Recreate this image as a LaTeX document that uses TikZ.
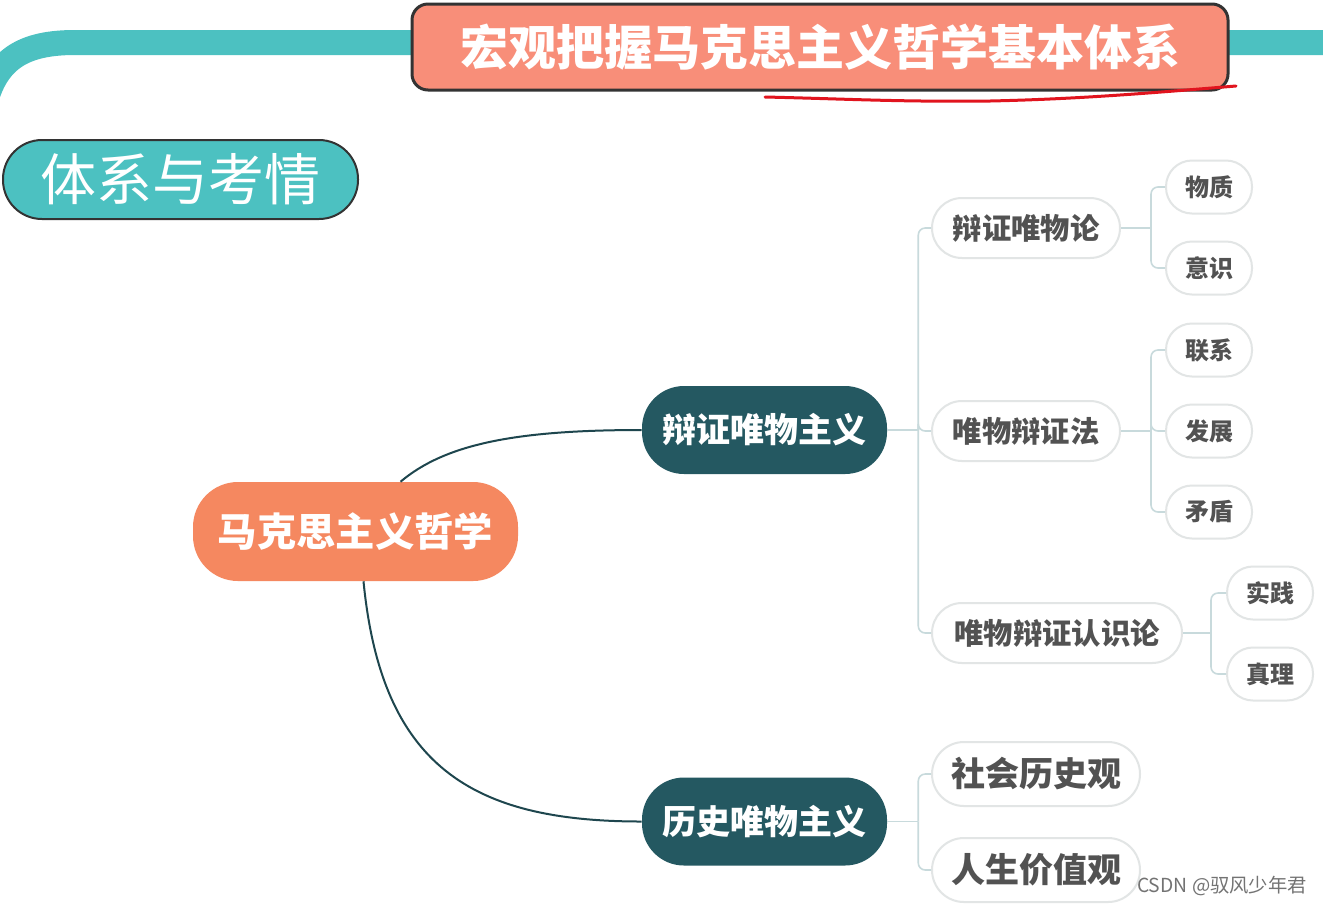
\documentclass[tikz,border=0pt]{standalone}
\usepackage{fontspec}
\setmainfont{Noto Sans CJK SC}
\usetikzlibrary{calc}
\definecolor{bandc}{RGB}{76,193,193}
\definecolor{titlefill}{RGB}{248,142,121}
\definecolor{rootfill}{RGB}{245,136,96}
\definecolor{dteal}{RGB}{36,88,97}
\definecolor{mline}{RGB}{30,70,78}
\definecolor{tlinec}{RGB}{200,218,220}
\definecolor{ltext}{RGB}{82,82,82}
\definecolor{lborder}{RGB}{226,229,229}
\definecolor{redpen}{RGB}{225,20,30}
\newcommand{\pu}[1]{#1*0.75pt}
\tikzset{
  titlebox/.style={draw=black!80, line width=\pu{3}, fill=titlefill, rounded corners=\pu{16},
    minimum width=\pu{816}, minimum height=\pu{86}, inner sep=0pt, text=white,
    font=\bfseries\fontsize{36}{40}\selectfont},
  tagbox/.style={draw=black!80, line width=\pu{2}, fill=bandc, rounded corners=\pu{39},
    minimum width=\pu{355}, minimum height=\pu{79}, inner sep=0pt, text=white,
    font=\fontsize{42}{48}\selectfont},
  rootbox/.style={fill=rootfill, rounded corners=\pu{45}, minimum width=\pu{325},
    minimum height=\pu{99}, inner sep=0pt, text=white, font=\bfseries\fontsize{29.5}{34}\selectfont},
  lvlone/.style={fill=dteal, rounded corners=\pu{42}, minimum width=\pu{245},
    minimum height=\pu{88}, inner sep=0pt, text=white, font=\bfseries\fontsize{25.5}{30}\selectfont},
  lvltwo/.style={fill=white, draw=lborder, line width=\pu{2}, rounded corners=\pu{30},
    minimum height=\pu{60}, inner sep=0pt, text=ltext, font=\bfseries\fontsize{22}{26}\selectfont},
  lvlbig/.style={lvltwo, rounded corners=\pu{32}, minimum height=\pu{64}, minimum width=\pu{208},
    font=\bfseries\fontsize{25.5}{30}\selectfont},
  lvlthree/.style={fill=white, draw=lborder, line width=\pu{2}, rounded corners=\pu{26},
    minimum height=\pu{53}, minimum width=\pu{86}, inner sep=0pt, text=ltext,
    font=\bfseries\fontsize{18}{22}\selectfont},
  mainc/.style={draw=mline, line width=\pu{2}},
  tl/.style={draw=tlinec, line width=\pu{1.6}, rounded corners=\pu{7}},
}
\begin{document}
\begin{tikzpicture}[x=0.75pt,y=-0.75pt]
\useasboundingbox (0,0) rectangle (1323,908);
\fill[white] (0,0) rectangle (1323,908);

% teal band
\draw[bandc, line width=\pu{25}] (-14,100) .. controls (-2,58) and (25,42.5) .. (75,42.5) -- (1340,42.5);

% title
\node[titlebox] (title) at (820,47) {宏观把握马克思主义哲学基本体系};
% red hand-drawn underline
\draw[redpen, line width=\pu{3}, line cap=round] (765,97) .. controls (850,99) and (900,102) .. (990,101)
  .. controls (1080,99) and (1150,93) .. (1236,86);

% tag
\node[tagbox] (tag) at (180.5,179.5) {体系与考情};

% main nodes
\node[rootbox] (root) at (355.5,531.5) {马克思主义哲学};
\node[lvlone] (dm) at (764.5,430) {辩证唯物主义};
\node[lvlone] (hm) at (764.5,821.5) {历史唯物主义};

\draw[mainc] ([xshift=\pu{45}]root.north) .. controls +(45,-38) and +(-125,0) .. (dm.west);
\draw[mainc] ([xshift=\pu{8}]root.south) .. controls +(18,185) and +(-170,0) .. (hm.west);

% level 2
\node[lvltwo, minimum width=\pu{188}] (a1) at (1026,228) {辩证唯物论};
\node[lvltwo, minimum width=\pu{188}] (a2) at (1026,431) {唯物辩证法};
\node[lvltwo, minimum width=\pu{250}] (a3) at (1057,633) {唯物辩证认识论};
\node[lvlbig] (h1) at (1036,774) {社会历史观};
\node[lvlbig] (h2) at (1036,870) {人生价值观};

% level 3
\node[lvlthree] (b1) at (1209,187) {物质};
\node[lvlthree] (b2) at (1209,268) {意识};
\node[lvlthree] (c1) at (1209,350) {联系};
\node[lvlthree] (c2) at (1209,431) {发展};
\node[lvlthree] (c3) at (1209,512) {矛盾};
\node[lvlthree] (d1) at (1270,593) {实践};
\node[lvlthree] (d2) at (1270,674) {真理};

% tree connectors
\draw[tl] (dm.east) -- ++(31,0);
\draw[tl] ([xshift=\pu{31}]dm.east) |- (a1.west);
\draw[tl] ([xshift=\pu{31}]dm.east) |- (a2.west);
\draw[tl] ([xshift=\pu{31}]dm.east) |- (a3.west);

\draw[tl] (hm.east) -- ++(31,0);
\draw[tl] ([xshift=\pu{31}]hm.east) |- (h1.west);
\draw[tl] ([xshift=\pu{31}]hm.east) |- (h2.west);

\draw[tl] (a1.east) -- ++(30,0);
\draw[tl] ([xshift=\pu{30}]a1.east) |- (b1.west);
\draw[tl] ([xshift=\pu{30}]a1.east) |- (b2.west);

\draw[tl] (a2.east) -- ++(30,0);
\draw[tl] ([xshift=\pu{30}]a2.east) |- (c1.west);
\draw[tl] ([xshift=\pu{30}]a2.east) |- (c2.west);
\draw[tl] ([xshift=\pu{30}]a2.east) |- (c3.west);

\draw[tl] (a3.east) -- ++(28,0);
\draw[tl] ([xshift=\pu{28}]a3.east) |- (d1.west);
\draw[tl] ([xshift=\pu{28}]a3.east) |- (d2.west);

% watermark
\node[text=black!55, font=\fontsize{14.5}{17}\selectfont, inner sep=0pt] (wm) at (1222,886) {CSDN @驭风少年君};
\end{tikzpicture}
\end{document}
